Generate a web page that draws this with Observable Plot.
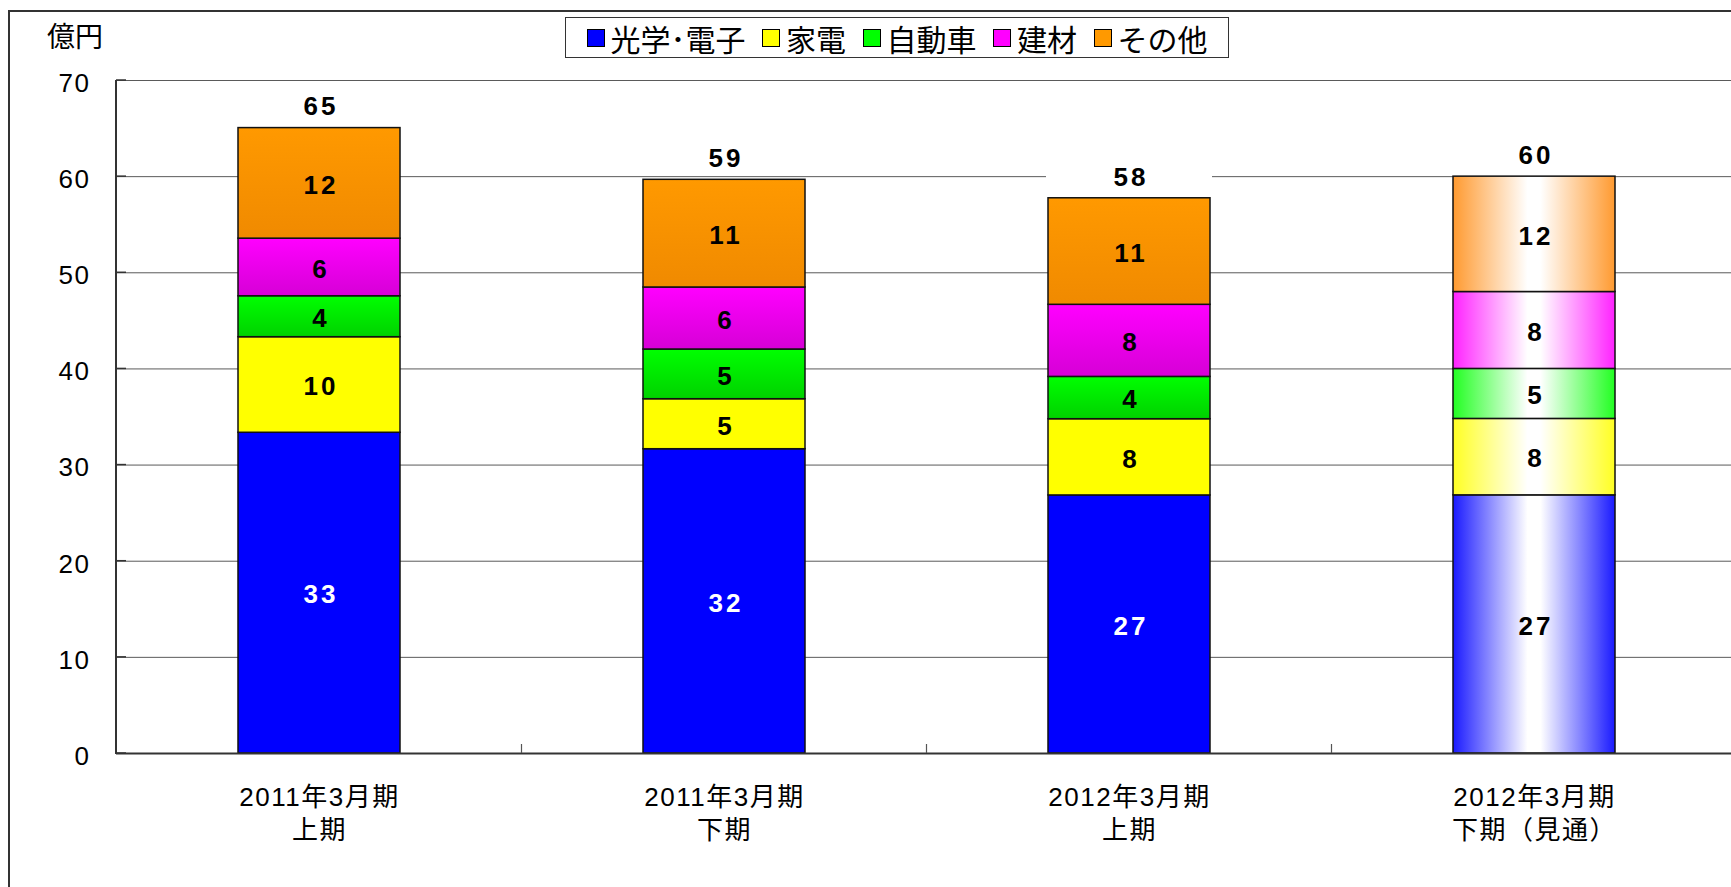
<!DOCTYPE html>
<html>
<head>
<meta charset="utf-8">
<script src="https://cdn.jsdelivr.net/npm/d3@7"></script>
<script src="https://cdn.jsdelivr.net/npm/@observablehq/plot@0.6"></script>
<style>
html,body{margin:0;padding:0;background:#fff;overflow:hidden;width:1731px;height:887px;}
#wrap{position:relative;width:1731px;height:887px;}
#chart{position:absolute;left:0;top:0;}
#chart svg{background:transparent;}
#chart svg text{letter-spacing:1.5px;}
#chart svg g[font-weight="bold"] text{letter-spacing:3px;}
#frame{position:absolute;left:8px;top:10px;width:1800px;height:1000px;border:2px solid #333;box-sizing:border-box;pointer-events:none;}
#unit{position:absolute;left:47px;top:21px;font-size:28px;font-family:"Noto Sans CJK JP",sans-serif;color:#000;line-height:1;}
#legend{position:absolute;left:565px;top:17px;height:41px;width:664px;box-sizing:border-box;border:1.5px solid #333;display:flex;align-items:center;justify-content:space-evenly;padding:0 4px;font-size:30px;font-family:"Noto Sans CJK JP",sans-serif;background:#fff;color:#000;}
.item{display:flex;align-items:center;line-height:1;}
.sw{width:18px;height:18px;border:1.5px solid #000;box-sizing:border-box;margin-right:6px;}
</style>
</head>
<body>
<div id="wrap">
  <div id="chart"></div>
  <div id="frame"></div>
  <div id="unit">億円</div>
  <div id="legend"></div>
</div>
<script>
// ---- data ----
const categories = ["2011年3月期\n上期", "2011年3月期\n下期", "2012年3月期\n上期", "2012年3月期\n下期（見通）"];
const series = ["光学･電子", "家電", "自動車", "建材", "その他"];
const seriesColors = ["#0000FF", "#FFFF00", "#00FF00", "#FF00FF", "#FF9900"];
const optical    = [33.36, 31.65, 26.84, 26.85];
const appliances = [9.94, 5.2, 7.93, 7.95];
const automotive = [4.26, 5.17, 4.4, 5.2];
const building   = [5.99, 6.45, 7.5, 8.0];
const others     = [11.5, 11.2, 11.08, 12.0];
const totalLabels = [65, 59, 58, 60];
const yTicks = [0, 10, 20, 30, 40, 50, 60, 70];
const forecastIndex = 3;

// ---- tables built from the arrays ----
const seriesValues = [optical, appliances, automotive, building, others];
const rows = [];
series.forEach((s, k) => categories.forEach((c, i) => rows.push({cat: c, series: s, k, value: seriesValues[k][i], forecast: i === forecastIndex})));
const totals = categories.map((c, i) => ({cat: c, total: d3.sum(seriesValues, v => v[i]), label: totalLabels[i]}));

// legend
const legend = document.getElementById("legend");
series.forEach((s, k) => {
  const it = document.createElement("div"); it.className = "item";
  const sw = document.createElement("div"); sw.className = "sw"; sw.style.background = seriesColors[k];
  const tx = document.createElement("span"); tx.textContent = s;
  it.appendChild(sw); it.appendChild(tx); legend.appendChild(it);
});

const plot = Plot.plot({
  width: 1731, height: 887,
  marginLeft: 116, marginRight: 0, marginTop: 80, marginBottom: 134,
  style: {background: "transparent", fontFamily: '"Liberation Sans","Noto Sans CJK JP",sans-serif', fontSize: "26px", color: "#000"},
  x: {domain: categories, range: [116, 1736], paddingInner: 0.6, paddingOuter: 0.3, axis: null},
  y: {domain: [0, 70], range: [753, 80], axis: null},
  color: {type: "identity"},
  marks: [
    Plot.ruleY(yTicks.filter(t => t > 0), {stroke: "#5a5a5a", strokeWidth: 1}),
    Plot.axisY(yTicks, {tickSize: 0, tickPadding: 26, fontSize: 26, label: null, dy: 3, fill: "#000"}),
    Plot.barY(totals, {x: "cat", y1: "total", y2: "total", fill: "white", insetTop: -37, insetBottom: 7, insetLeft: -2, insetRight: -2}),
    Plot.barY(rows, Plot.stackY({x: "cat", y: "value", z: "series",
      fill: d => d.forecast ? `url(#h${d.k})` : `url(#v${d.k})`, stroke: "#111", strokeWidth: 1.5})),
    Plot.text(rows, Plot.stackY({x: "cat", y: "value", z: "series",
      text: d => String(Math.round(d.value)),
      fill: d => (d.k === 0 && !d.forecast) ? "white" : "black",
      fontWeight: "bold", fontSize: 26, dy: 2, dx: 1.5})),
    Plot.text(totals, {x: "cat", y: "total", text: d => String(d.label), dy: -21, dx: 1.5, fontWeight: "bold", fontSize: 26, fill: "black"}),
    Plot.text(categories, {x: d => d, y: () => 0, text: d => d, lineAnchor: "top", dy: 28, fontSize: 26, lineHeight: 1.3, fill: "black"}),
    Plot.ruleY([0], {stroke: "#333", strokeWidth: 2})
  ]
});
document.getElementById("chart").appendChild(plot);

// gradients and axis decorations
const svg = d3.select(plot);
const defs = svg.insert("defs", ":first-child");
const vStops = [["#0000FF", "#0000FF"], ["#FFFF00", "#FFFF00"], ["#00FF00", "#00D200"], ["#FF00FF", "#D600D6"], ["#FF9900", "#F08A00"]];
const hEdge = ["#1A1AFF", "#FFFF22", "#22FF22", "#FF22FF", "#FF9A30"];
vStops.forEach(([a, b], k) => {
  const g = defs.append("linearGradient").attr("id", "v" + k).attr("x1", 0).attr("y1", 0).attr("x2", 0).attr("y2", 1);
  g.append("stop").attr("offset", 0).attr("stop-color", a);
  g.append("stop").attr("offset", 1).attr("stop-color", b);
});
hEdge.forEach((c, k) => {
  const g = defs.append("linearGradient").attr("id", "h" + k).attr("x1", 0).attr("y1", 0).attr("x2", 1).attr("y2", 0);
  [[0, c], [0.46, "#fff"], [0.54, "#fff"], [1, c]].forEach(([o, col]) => g.append("stop").attr("offset", o).attr("stop-color", col));
});

const ys = plot.scale("y");
const xs = plot.scale("x");
const x0 = xs.range[0];
svg.append("line").attr("x1", x0).attr("x2", x0).attr("y1", ys.range[0] + 1).attr("y2", ys.range[1]).attr("stroke", "#333").attr("stroke-width", 2);
yTicks.forEach(t => {
  svg.append("line").attr("x1", x0).attr("x2", x0 + 10).attr("y1", ys.apply(t)).attr("y2", ys.apply(t)).attr("stroke", "#333").attr("stroke-width", 1.5);
});
const bw = xs.bandwidth != null ? xs.bandwidth : 162;
for (let i = 0; i < categories.length - 1; i++) {
  const bx = (xs.apply(categories[i]) + xs.apply(categories[i + 1])) / 2 + bw / 2;
  svg.append("line").attr("x1", bx).attr("x2", bx).attr("y1", ys.apply(0)).attr("y2", ys.apply(0) - 9).attr("stroke", "#555").attr("stroke-width", 1.2);
}
</script>
</body>
</html>
